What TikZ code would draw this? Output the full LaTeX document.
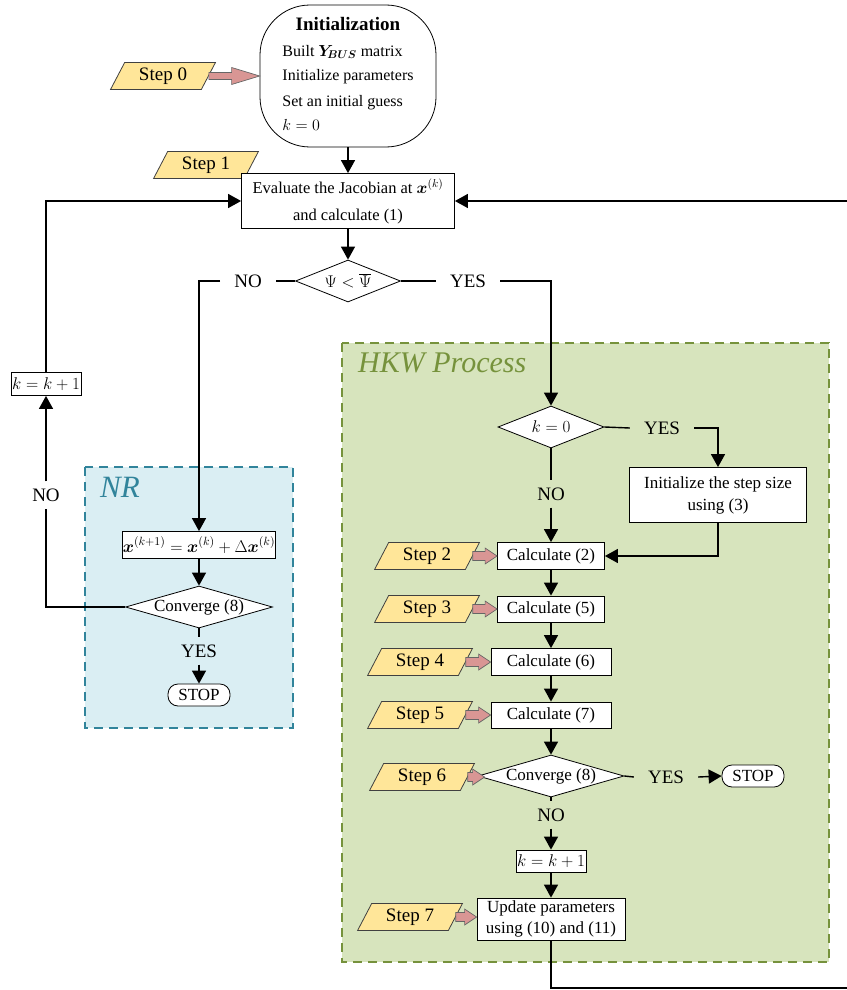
\RequirePackage{fix-cm}
\documentclass[tikz,border=0pt]{standalone}
\usepackage{bm}
\usepackage{fontspec}
\setmainfont{Liberation Serif}
\usetikzlibrary{shapes.geometric,arrows.meta,calc}
\definecolor{stepyel}{HTML}{FFE699}
\definecolor{stepbd}{HTML}{404040}
\definecolor{pinkarr}{HTML}{D99694}
\definecolor{nrfill}{HTML}{DAEEF3}
\definecolor{nrbd}{HTML}{31849B}
\definecolor{hkwfill}{HTML}{D7E4BD}
\definecolor{hkwbd}{HTML}{76923C}
\begin{document}
\begin{tikzpicture}[x=1pt,y=-1pt,
 box/.style={draw=black, line width=0.8pt, fill=white, inner sep=0pt, align=center, font=\fontsize{17}{26}\selectfont},
 dia/.style={diamond, aspect=3.5, draw=black, line width=0.8pt, fill=white, inner sep=0pt, font=\fontsize{17}{20}\selectfont},
 term/.style={draw=black, line width=0.8pt, fill=white, rounded corners=10pt, minimum width=62pt, minimum height=22pt, inner sep=0pt, font=\fontsize{17}{20}\selectfont},
 stepbox/.style={trapezium, trapezium left angle=62, trapezium right angle=118, trapezium stretches=true, draw=stepbd, line width=0.8pt, fill=stepyel, minimum width=105pt, minimum height=27pt, inner sep=0pt, font=\fontsize{19}{22}\selectfont},
 lab/.style={inner xsep=14pt, inner ysep=7pt, font=\fontsize{19}{22}\selectfont},
 conn/.style={line width=1.4pt, draw=black},
 arr/.style={conn, -{Triangle[length=13pt,width=14pt]}},
 fat/.style n args={3}{draw=stepbd!80, line width=0.7pt, fill=pinkarr, to path={let \p1=(\tikztostart), \p2=(\tikztotarget) in (\x1,\y1+#3) -- (\x2-#1,\y1+#3) -- (\x2-#1,\y1+#2) -- (\x2,\y1) -- (\x2-#1,\y1-#2) -- (\x2-#1,\y1-#3) -- (\x1,\y1-#3) -- cycle}},
 area/.style={line width=1.5pt, dash pattern=on 9pt off 6pt},
]
\useasboundingbox (0,0) rectangle (846,990);
% background regions
\draw[area, fill=hkwfill, draw=hkwbd] (342,343) rectangle (829,962);
\draw[area, fill=nrfill, draw=nrbd] (85,467) rectangle (293,728);
\node[anchor=base west, text=hkwbd, font=\fontsize{30}{32}\selectfont\itshape, inner sep=0pt] (hkwlab) at (358,372) {HKW Process};
\node[anchor=base west, text=nrbd, font=\fontsize{31}{32}\selectfont\itshape, inner sep=0pt] (nrlab) at (100,497) {NR};

% top
\node[stepbox] (s0) at (163,76) {Step 0};
\node[draw, line width=0.8pt, rounded corners=50pt, minimum width=176pt, minimum height=142pt, inner sep=0pt, fill=white] (init) at (348,76) {%
\fontsize{16}{25}\selectfont
\begin{tabular}{@{}l@{}}
\multicolumn{1}{@{}c@{}}{\fontsize{19}{25}\selectfont\bfseries Initialization}\\
Built $\bm{Y}_{\!\bm{BUS}}$ matrix\\
Initialize parameters\\
Set an initial guess\\
$k=0$
\end{tabular}};
\node[stepbox] (s1) at (206,165) {Step 1};
\node[box, minimum width=213pt, minimum height=55pt, font=\fontsize{16.5}{27}\selectfont] (eval) at (348,201) {Evaluate the Jacobian at $\bm{x}^{(k)}$\\and calculate (1)};
\node[dia, minimum width=105pt, minimum height=42pt] (psi) at (348,281) {$\Psi<\overline{\Psi}$};
\node[lab] (no1) at (248,281) {NO};
\node[lab] (yes1) at (468,281) {YES};
\node[box, minimum width=70pt, minimum height=23pt] (kk) at (46,384) {$k=k+1$};

% NR
\node[box, minimum width=146pt, minimum height=27pt] (nrx) at (199,545) {$\bm{x}^{(k+1)}=\bm{x}^{(k)}+\Delta\bm{x}^{(k)}$};
\node[dia, minimum width=147pt, minimum height=42pt] (nrc) at (199,607) {Converge (8)};
\node[lab] (yes0) at (199,651) {YES};
\node[term] (stop1) at (199,695) {STOP};
\node[lab] (no2) at (46,495) {NO};

% HKW
\node[dia, minimum width=106pt, minimum height=42pt] (k0) at (551,427) {$k=0$};
\node[lab] (yes2) at (662,428) {YES};
\node[box, minimum width=177pt, minimum height=55pt, font=\fontsize{17}{22}\selectfont] (ist) at (718,495) {Initialize the step size\\using (3)};
\node[lab] (no3) at (551,494) {NO};
\node[box, minimum width=107pt, minimum height=27pt] (c2) at (551,556) {Calculate (2)};
\node[box, minimum width=107pt, minimum height=26pt] (c5) at (551,609) {Calculate (5)};
\node[box, minimum width=120pt, minimum height=27pt] (c6) at (551,662) {Calculate (6)};
\node[box, minimum width=120pt, minimum height=26pt] (c7) at (551,715) {Calculate (7)};
\node[dia, minimum width=146pt, minimum height=42pt] (hc) at (551,776) {Converge (8)};
\node[lab] (yes3) at (666,777) {YES};
\node[term] (stop2) at (753,776) {STOP};
\node[lab] (no4) at (551,815) {NO};
\node[box, minimum width=70pt, minimum height=22pt] (kk2) at (551,861) {$k=k+1$};
\node[box, minimum width=148pt, minimum height=42pt, font=\fontsize{17}{21}\selectfont] (upd) at (551,919) {Update parameters\\using (10) and (11)};

\node[stepbox] (s2) at (427,556) {Step 2};
\node[stepbox] (s3) at (427,609) {Step 3};
\node[stepbox] (s4) at (420,662) {Step 4};
\node[stepbox] (s5) at (420,715) {Step 5};
\node[stepbox] (s6) at (422,777) {Step 6};
\node[stepbox] (s7) at (410,917) {Step 7};

% connectors
\draw[arr] (init.south) -- (eval.north);
\draw[arr] (eval.south) -- (psi.north);
\draw[conn] (psi.west) -- (no1.east);
\draw[arr] (no1.west) -| (nrx.north);
\draw[conn] (psi.east) -- (yes1.west);
\draw[arr] (yes1.east) -| (k0.north);
\draw[arr] (nrx.south) -- (nrc.north);
\draw[conn] (nrc.south) -- (yes0.north);
\draw[arr] (yes0.south) -- (stop1.north);
\draw[conn] (nrc.west) -| (no2.south);
\draw[arr] (no2.north) -- (kk.south);
\draw[arr] (kk.north) |- (eval.west);
\draw[conn] (k0.east) -- (yes2.west);
\draw[arr] (yes2.east) -| (ist.north);
\draw[conn] (k0.south) -- (no3.north);
\draw[arr] (no3.south) -- (c2.north);
\draw[arr] (ist.south) |- (c2.east);
\draw[arr] (c2.south) -- (c5.north);
\draw[arr] (c5.south) -- (c6.north);
\draw[arr] (c6.south) -- (c7.north);
\draw[arr] (c7.south) -- (hc.north);
\draw[conn] (hc.east) -- (yes3.west);
\draw[arr] (yes3.east) -- (stop2.west);
\draw[conn] (hc.south) -- (no4.north);
\draw[arr] (no4.south) -- (kk2.north);
\draw[arr] (kk2.south) -- (upd.north);
\coordinate (br) at (870,988);
\draw[arr] (upd.south) |- (br) |- (eval.east);

% step arrows
\draw[fat={28pt}{8.5pt}{3.5pt}] (s0.east) to (init.west);
\draw[fat={12pt}{8pt}{4.5pt}] (s2.east) to (c2.west);
\draw[fat={12pt}{8pt}{4.5pt}] (s3.east) to (c5.west);
\draw[fat={12pt}{8pt}{4.5pt}] (s4.east) to (c6.west);
\draw[fat={12pt}{8pt}{4.5pt}] (s5.east) to (c7.west);
\draw[fat={12pt}{8pt}{4.5pt}] (s6.east) to ([xshift=7pt]hc.west);
\draw[fat={12pt}{8pt}{4.5pt}] (s7.east) to (upd.west);
\end{tikzpicture}
\end{document}
